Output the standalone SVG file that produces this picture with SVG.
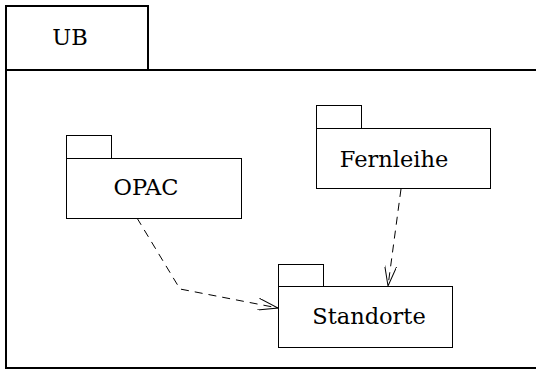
<svg xmlns="http://www.w3.org/2000/svg" width="536" height="370" viewBox="0 0 536 370">
<defs>
<style>
.box{fill:#fff;stroke:#000;stroke-width:1}
.frame{fill:#fff;stroke:#000;stroke-width:2}
.lbl{font-family:"DejaVu Serif","Liberation Serif",serif;font-size:22.5px;fill:#000;text-anchor:middle}
.dep{fill:none;stroke:#000;stroke-width:1;stroke-dasharray:8,6}
</style>
<marker id="open" viewBox="0 0 20 12" refX="20" refY="6" markerWidth="20" markerHeight="12" markerUnits="userSpaceOnUse" orient="auto">
<path d="M0,0 L20,6 L0,12" fill="none" stroke="#000" stroke-width="1"/>
</marker>
</defs>
<rect width="536" height="370" fill="#fff"/>
<g id="UB">
<rect class="frame" x="6" y="6" width="142" height="64"/>
<rect class="frame" x="6" y="70" width="540" height="298"/>
<text class="lbl" x="70" y="45">UB</text>
</g>
<g id="OPAC">
<rect class="box" x="66.5" y="135.5" width="45" height="23"/>
<rect class="box" x="66.5" y="158.5" width="175" height="60"/>
<text class="lbl" x="146" y="195">OPAC</text>
</g>
<g id="Fernleihe">
<rect class="box" x="316.5" y="105.5" width="45" height="23"/>
<rect class="box" x="316.5" y="128.5" width="174" height="60"/>
<text class="lbl" x="394" y="167">Fernleihe</text>
</g>
<g id="Standorte">
<rect class="box" x="278.5" y="264.5" width="45" height="22"/>
<rect class="box" x="278.5" y="286.5" width="174" height="61"/>
<text class="lbl" x="369" y="324">Standorte</text>
</g>
<g id="connectors">
<path class="dep" d="M137,218 L180,289 L278,308" marker-end="url(#open)"/>
<path class="dep" d="M401,189 L388,286" marker-end="url(#open)"/>
</g>
</svg>
